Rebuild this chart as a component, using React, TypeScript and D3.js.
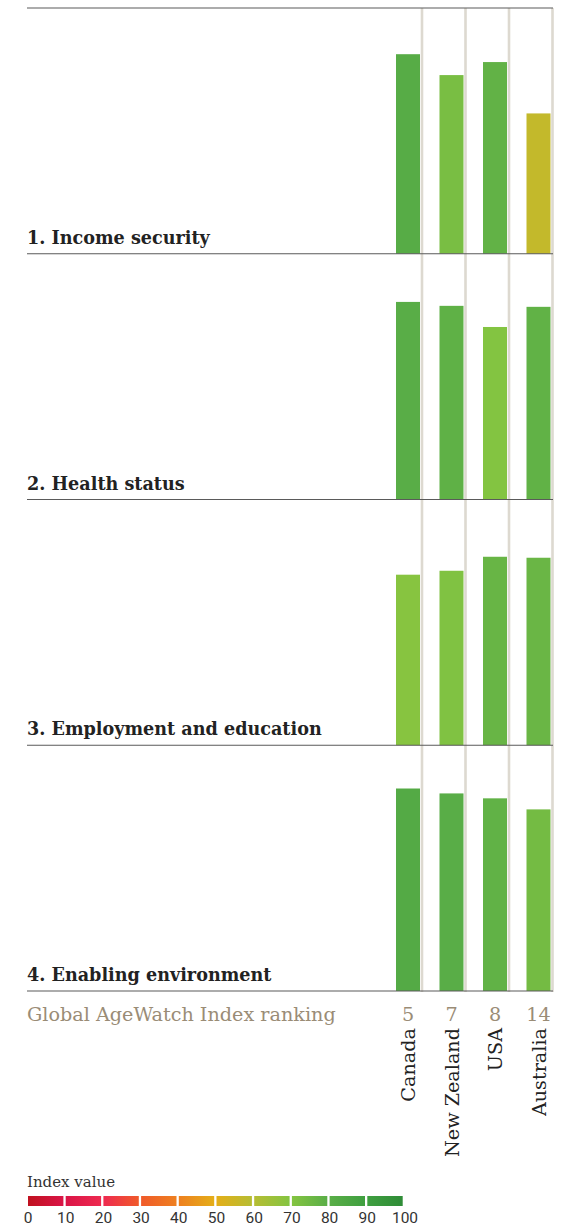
import * as d3 from "d3";

const countries = ["Canada", "New Zealand", "USA", "Australia"];
const ranks = [5, 7, 8, 14];
const domainTitles = [
  "1. Income security",
  "2. Health status",
  "3. Employment and education",
  "4. Enabling environment",
];
const incomeSecurity = [81.2, 72.7, 78.0, 57.1];
const healthStatus = [80.4, 78.8, 70.2, 78.4];
const employmentEducation = [69.4, 71.0, 76.7, 76.3];
const enablingEnvironment = [82.4, 80.4, 78.4, 73.9];
const legendTicks = [0, 10, 20, 30, 40, 50, 60, 70, 80, 90, 100];

const W = 561;
const H = 1227;
const LEFT = 27;
const RIGHT = 553;
const TOP = 8;
const SECTION_H = 245.75;
const SERIF = "'DejaVu Serif', 'Liberation Serif', serif";
const TAN = "#9a8c76";

const series = [incomeSecurity, healthStatus, employmentEducation, enablingEnvironment];

// index colour ramp, red -> orange -> yellow -> green
const colorScale = d3
  .scaleLinear<string>()
  .domain([0, 10, 20, 30, 40, 50, 60, 70, 80, 90, 100])
  .range([
    "#c0111f", "#da1547", "#ee2a50", "#f05a2a", "#ee8020", "#e4ae18",
    "#b6bd33", "#84c441", "#5aae47", "#3f9f40", "#2f8c37",
  ])
  .interpolate(d3.interpolateRgb);

export default function App() {
  const xScale = d3.scaleBand<string>().domain(countries).range([378.5, 552.5]).padding(0);
  const step = xScale.step();
  const barW = 24;
  const barOff = 17.5;

  const legendX = d3.scaleLinear().domain([0, 100]).range([28, 405]);
  const bottom = TOP + SECTION_H * series.length;

  return (
    <svg
      width={W}
      height={H}
      style={{ position: "absolute", left: 0, top: 0, display: "block", background: "#fff" }}
    >
      <defs>
        {legendTicks.slice(0, -1).map((v) => (
          <linearGradient key={v} id={`lg${v}`} x1="0" x2="1" y1="0" y2="0">
            <stop offset="0%" stopColor={colorScale(v)} />
            <stop offset="100%" stopColor={colorScale(v + 10)} />
          </linearGradient>
        ))}
      </defs>

      {/* vertical separators */}
      {countries.map((c) => (
        <rect
          key={c}
          x={(xScale(c) as number) + step - 1.3}
          y={TOP}
          width={2.6}
          height={bottom - TOP + 1}
          fill="#ddd9d0"
        />
      ))}

      {series.map((vals, i) => {
        const top = TOP + i * SECTION_H;
        const base = top + SECTION_H;
        const y = d3.scaleLinear().domain([0, 100]).range([base, top]);
        return (
          <g key={i}>
            {vals.map((v, j) => (
              <rect
                key={j}
                x={(xScale(countries[j]) as number) + barOff}
                y={y(v)}
                width={barW}
                height={y(0) - y(v)}
                fill={colorScale(v)}
              />
            ))}
            <text
              x={LEFT}
              y={base - 10}
              fontFamily={SERIF}
              fontWeight="bold"
              fontSize={17.6}
              fill="#222"
            >
              {domainTitles[i]}
            </text>
          </g>
        );
      })}

      {/* horizontal rules */}
      {d3.range(series.length + 1).map((i) => (
        <line
          key={i}
          x1={LEFT}
          x2={RIGHT}
          y1={TOP + i * SECTION_H}
          y2={TOP + i * SECTION_H}
          stroke="#5a5a5a"
          strokeWidth={1.2}
        />
      ))}

      {/* ranking row */}
      <text x={LEFT} y={1021} fontFamily={SERIF} fontSize={19.2} fill={TAN}>
        Global AgeWatch Index ranking
      </text>
      {countries.map((c, j) => {
        const cx = (xScale(c) as number) + barOff + barW / 2;
        return (
          <g key={c}>
            <text x={cx} y={1021} textAnchor="middle" fontFamily={SERIF} fontSize={19.2} fill={TAN}>
              {ranks[j]}
            </text>
            <text
              transform={`translate(${cx + 7},1028) rotate(-90)`}
              textAnchor="end"
              fontFamily={SERIF}
              fontSize={19.2}
              fill="#222"
            >
              {c}
            </text>
          </g>
        );
      })}

      {/* legend */}
      <text x={LEFT} y={1187} fontFamily={SERIF} fontSize={15} fill="#333">
        Index value
      </text>
      {legendTicks.slice(0, -1).map((v) => (
        <rect
          key={v}
          x={legendX(v)}
          y={1196}
          width={legendX(v + 10) - legendX(v) - 2.3}
          height={10}
          fill={`url(#lg${v})`}
        />
      ))}
      {legendTicks.map((v) => (
        <text
          key={v}
          x={legendX(v)}
          y={1223}
          textAnchor="middle"
          fontFamily="Roboto, 'DejaVu Sans', sans-serif"
          fontSize={15.5}
          fill="#333"
        >
          {v}
        </text>
      ))}
    </svg>
  );
}
